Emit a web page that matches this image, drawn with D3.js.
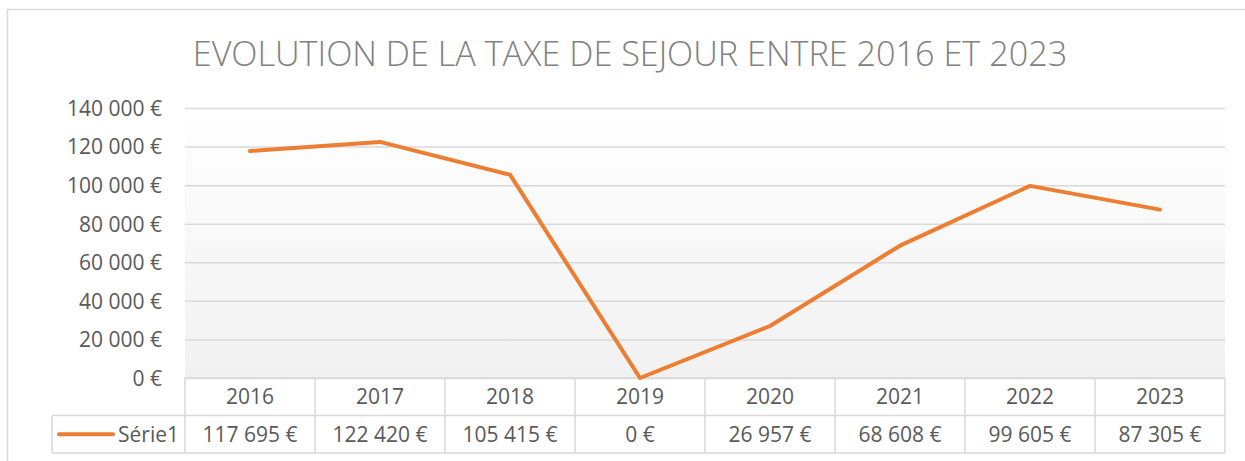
<!DOCTYPE html>
<html>
<head>
<meta charset="utf-8">
<script src="https://cdn.jsdelivr.net/npm/d3@7"></script>
<style>
  body { margin: 0; background: #fff; }
  svg { display: block; font-family: "Open Sans", sans-serif; }
</style>
</head>
<body>
<script>
// chart data
var years = ["2016", "2017", "2018", "2019", "2020", "2021", "2022", "2023"];
var values = [117695, 122420, 105415, 0, 26957, 68608, 99605, 87305];
var yTicks = [0, 20000, 40000, 60000, 80000, 100000, 120000, 140000];
var seriesName = "Série1";
var title = "EVOLUTION DE LA TAXE DE SEJOUR ENTRE 2016 ET 2023";

var w = 1245;
var h = 461;

// plot area
const plot = {left: 185, right: 1225, top: 108, bottom: 378};
const rowH = 37.5;
const legendLeft = 52;

const textColor = "#595959";
const gridColor = "#d9d9d9";
const lineColor = "#ed7d31";

// french number format: "122 420 €"
var fr = d3.formatLocale({decimal: ",", thousands: "\u00a0", grouping: [3], currency: ["", "\u00a0€"]});
var euro = fr.format("$,.0f");

var svg = d3.select("body").append("svg")
            .attr("width", w)
            .attr("height", h);

// outer chart border
svg.append("rect")
   .attr("x", 7.5).attr("y", 9.5)
   .attr("width", w + 20).attr("height", h + 20)
   .attr("fill", "#fff")
   .attr("stroke", gridColor)
   .attr("stroke-width", 1.5);

// background gradient of the plot area
var defs = svg.append("defs");
var grad = defs.append("linearGradient")
               .attr("id", "bg")
               .attr("x1", 0).attr("y1", 0).attr("x2", 0).attr("y2", 1);
grad.append("stop").attr("offset", "0%").attr("stop-color", "#ffffff");
grad.append("stop").attr("offset", "100%").attr("stop-color", "#f1f1f1");

var xScale = d3.scaleBand()
               .domain(years)
               .range([plot.left, plot.right])
               .padding(0);

var yScale = d3.scaleLinear()
               .domain([0, 140000])
               .range([plot.bottom, plot.top]);

svg.append("rect")
   .attr("x", plot.left).attr("y", plot.top)
   .attr("width", plot.right - plot.left)
   .attr("height", plot.bottom - plot.top)
   .attr("fill", "url(#bg)");

// y axis with gridlines
var yAxis = d3.axisLeft(yScale)
              .tickValues(yTicks)
              .tickSize(-(plot.right - plot.left))
              .tickPadding(23)
              .tickFormat(euro);

var gy = svg.append("g")
            .attr("transform", "translate(" + plot.left + ",0)")
            .call(yAxis);
gy.select(".domain").remove();
gy.selectAll(".tick line").attr("stroke", gridColor).attr("stroke-width", 1.5);
gy.selectAll(".tick text")
  .attr("fill", textColor)
  .attr("font-size", "21px")
  .attr("font-family", "'Open Sans', sans-serif")
  .attr("dy", "0.35em");

// data table
var table = svg.append("g");
var row1 = plot.bottom, row2 = plot.bottom + rowH, row3 = plot.bottom + 2 * rowH;

// horizontal lines
table.append("line")
     .attr("x1", plot.left).attr("x2", plot.right)
     .attr("y1", row1).attr("y2", row1);
table.append("line")
     .attr("x1", legendLeft).attr("x2", plot.right)
     .attr("y1", row2).attr("y2", row2);
table.append("line")
     .attr("x1", legendLeft).attr("x2", plot.right)
     .attr("y1", row3).attr("y2", row3);
table.append("line")
     .attr("x1", legendLeft).attr("x2", legendLeft)
     .attr("y1", row2).attr("y2", row3);

// vertical lines
var xEdges = years.map(function(d) { return xScale(d); }).concat([plot.right]);
table.selectAll(".vline")
     .data(xEdges)
     .enter()
     .append("line")
     .attr("class", "vline")
     .attr("x1", function(d) { return d; })
     .attr("x2", function(d) { return d; })
     .attr("y1", row1).attr("y2", row3);

table.selectAll("line")
     .attr("stroke", gridColor)
     .attr("stroke-width", 1.5);

// year labels
table.selectAll(".year")
     .data(years)
     .enter()
     .append("text")
     .attr("class", "year")
     .attr("x", function(d) { return xScale(d) + xScale.bandwidth() / 2; })
     .attr("y", (row1 + row2) / 2)
     .attr("dy", "0.36em")
     .attr("text-anchor", "middle")
     .attr("fill", textColor)
     .attr("font-size", "21px")
     .text(function(d) { return d; });

// value labels
table.selectAll(".val")
     .data(values)
     .enter()
     .append("text")
     .attr("class", "val")
     .attr("x", function(d, i) { return xScale(years[i]) + xScale.bandwidth() / 2; })
     .attr("y", (row2 + row3) / 2)
     .attr("dy", "0.36em")
     .attr("text-anchor", "middle")
     .attr("fill", textColor)
     .attr("font-size", "21px")
     .text(function(d) { return euro(d); });

// legend key
table.append("line")
     .attr("x1", 59).attr("x2", 113)
     .attr("y1", (row2 + row3) / 2).attr("y2", (row2 + row3) / 2)
     .attr("stroke", lineColor)
     .attr("stroke-width", 4)
     .attr("stroke-linecap", "round");
table.append("text")
     .attr("x", 179)
     .attr("y", (row2 + row3) / 2)
     .attr("dy", "0.36em")
     .attr("text-anchor", "end")
     .attr("fill", textColor)
     .attr("font-size", "21px")
     .text(seriesName);

// the line
var line = d3.line()
             .x(function(d, i) { return xScale(years[i]) + xScale.bandwidth() / 2; })
             .y(function(d) { return yScale(d); });

svg.append("path")
   .datum(values)
   .attr("d", line)
   .attr("fill", "none")
   .attr("stroke", lineColor)
   .attr("stroke-width", 4)
   .attr("stroke-linejoin", "round")
   .attr("stroke-linecap", "round");

// title, sized to the reference width
var t = svg.append("text")
           .attr("x", 630)
           .attr("y", 66)
           .attr("text-anchor", "middle")
           .attr("fill", "#808080")
           .attr("font-weight", 300)
           .attr("font-size", "30px")
           .text(title);
var tw = t.node().getComputedTextLength();
t.attr("font-size", (30 * 875 / tw) + "px");
</script>
</body>
</html>
